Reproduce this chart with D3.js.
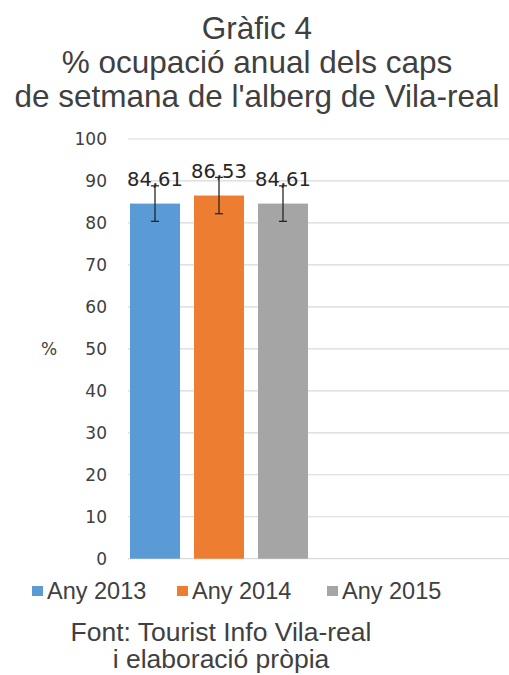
<!DOCTYPE html>
<html>
<head>
<meta charset="utf-8">
<script src="https://cdn.jsdelivr.net/npm/d3@7"></script>
<style>
  body { margin: 0; background: #fff; }
  text { font-family: "Liberation Sans", Arial, sans-serif; fill: #404040; }
</style>
</head>
<body>
<script>
const titleLines = ['Gràfic 4', '% ocupació anual dels caps', "de setmana de l'alberg de Vila-real"];
const seriesNames = ['Any 2013', 'Any 2014', 'Any 2015'];
const values = [84.61, 86.53, 84.61];
const errors = [4.23, 4.33, 4.23];
const colors = ['#5b9bd5', '#ed7d31', '#a5a5a5'];
const yTicks = [0, 10, 20, 30, 40, 50, 60, 70, 80, 90, 100];
const sourceLines = ['Font: Tourist Info Vila-real', 'i elaboració pròpia'];

const w = 509, h = 675;
const margin = { top: 139, left: 128, right: 0, bottom: 116 };

const svg = d3.select('body')
  .append('svg')
  .attr('width', w)
  .attr('height', h);

// title
svg.selectAll('.title')
  .data(titleLines)
  .enter()
  .append('text')
  .attr('class', 'title')
  .attr('x', 257)
  .attr('y', (d, i) => 39 + i * 34)
  .attr('text-anchor', 'middle')
  .style('font-size', '31.5px')
  .text(d => d);

// scales
const y = d3.scaleLinear().domain([0, 100]).range([h - margin.bottom - 0.3, margin.top]);
const x = d3.scaleBand()
  .domain(seriesNames)
  .range([123, 315])
  .paddingInner(14 / 64)
  .paddingOuter(7 / 64);

// gridlines
svg.selectAll('.grid')
  .data(yTicks)
  .enter()
  .append('line')
  .attr('class', 'grid')
  .attr('x1', margin.left)
  .attr('x2', w - margin.right)
  .attr('y1', d => y(d))
  .attr('y2', d => y(d))
  .style('stroke', '#d9d9d9')
  .style('stroke-width', 1.2);

// y axis labels
const yAxis = d3.axisLeft(y).tickValues(yTicks).tickSize(0).tickPadding(0);
const yAxisG = svg.append('g')
  .attr('transform', `translate(107,0)`)
  .call(yAxis);
yAxisG.select('.domain').remove();
yAxisG.selectAll('text')
  .style('font-size', '17px')
  .style('font-family', '"DejaVu Sans", sans-serif')
  .style('fill', '#404040');

svg.append('text')
  .attr('x', 49)
  .attr('y', y(50))
  .attr('dy', '0.35em')
  .attr('text-anchor', 'middle')
  .style('font-size', '17px')
  .style('font-family', '"DejaVu Sans", sans-serif')
  .text('%');

// bars
svg.selectAll('.bar')
  .data(values)
  .enter()
  .append('rect')
  .attr('class', 'bar')
  .attr('x', (d, i) => x(seriesNames[i]))
  .attr('y', d => y(d))
  .attr('width', x.bandwidth())
  .attr('height', d => y(0) - y(d))
  .style('fill', (d, i) => colors[i]);

// data labels
svg.selectAll('.label')
  .data(values)
  .enter()
  .append('text')
  .attr('class', 'label')
  .attr('x', (d, i) => x(seriesNames[i]) + x.bandwidth() / 2)
  .attr('y', d => y(d) - 18)
  .attr('text-anchor', 'middle')
  .style('font-size', '19.5px')
  .style('font-family', '"DejaVu Sans", sans-serif')
  .style('fill', '#262626')
  .text(d => d3.format('.2f')(d).replace('.', ','));

// error bars
const err = svg.selectAll('.err')
  .data(values)
  .enter()
  .append('g')
  .attr('class', 'err')
  .attr('transform', (d, i) => `translate(${x(seriesNames[i]) + x.bandwidth() / 2},0)`)
  .style('stroke', '#262626')
  .style('stroke-width', 1.3);

err.append('line')
  .attr('y1', (d, i) => y(d + errors[i]))
  .attr('y2', (d, i) => y(d - errors[i]));
err.append('line')
  .attr('x1', -4).attr('x2', 4)
  .attr('y1', (d, i) => y(d + errors[i]))
  .attr('y2', (d, i) => y(d + errors[i]));
err.append('line')
  .attr('x1', -4).attr('x2', 4)
  .attr('y1', (d, i) => y(d - errors[i]))
  .attr('y2', (d, i) => y(d - errors[i]));

// legend
const legendX = [32, 177, 327];
const legend = svg.selectAll('.legend')
  .data(seriesNames)
  .enter()
  .append('g')
  .attr('class', 'legend')
  .attr('transform', (d, i) => `translate(${legendX[i]},591)`);

legend.append('rect')
  .attr('x', 0)
  .attr('y', -5)
  .attr('width', 11)
  .attr('height', 10)
  .style('fill', (d, i) => colors[i]);

legend.append('text')
  .attr('x', 15)
  .attr('y', 7.5)
  .style('font-size', '23.5px')
  .text(d => d);

// source
svg.selectAll('.source')
  .data(sourceLines)
  .enter()
  .append('text')
  .attr('class', 'source')
  .attr('x', 221)
  .attr('y', (d, i) => 641 + i * 27)
  .attr('text-anchor', 'middle')
  .style('font-size', '26.5px')
  .text(d => d);
</script>
</body>
</html>
